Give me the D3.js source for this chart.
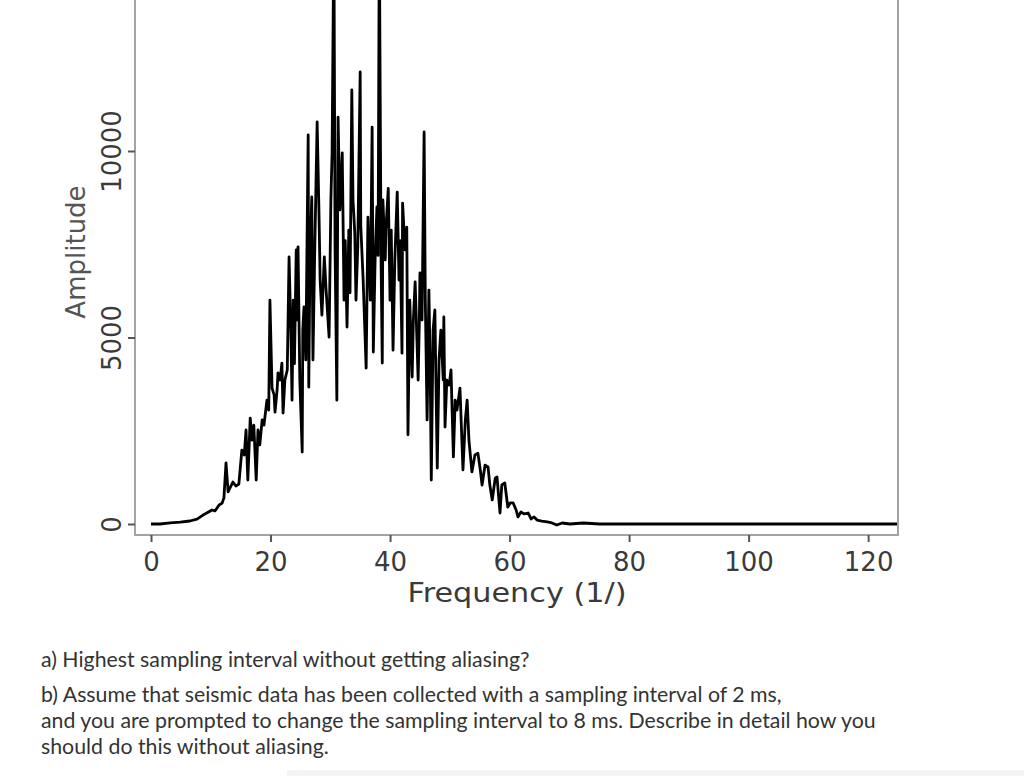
<!DOCTYPE html>
<html>
<head>
<meta charset="utf-8">
<script src="https://cdn.jsdelivr.net/npm/d3@7"></script>
<style>
  html, body { margin: 0; padding: 0; background: #fff; }
  svg { display: block; }
</style>
</head>
<body>
<svg id="chart" width="1024" height="776"></svg>
<script>
// ---- data ----
const frequency = [
  0, 1.5, 3.2, 4.9, 6.5, 7.7, 8.7, 9.4, 10.2, 10.7, 11.4, 11.9, 12.2, 12.55, 12.9, 13.2, 13.7, 14.2, 14.7,
  15.2, 15.6, 15.9, 16.2, 16.6, 16.9, 17.2, 17.6, 17.9, 18.2, 18.6, 18.9, 19.4, 19.7, 19.9, 20.25, 20.6,
  20.75, 21.1, 21.25, 21.6, 21.9, 22.1, 22.4, 22.8, 23.1, 23.4, 23.6, 23.8, 24.0, 24.3, 24.4, 24.6, 24.9,
  25.3, 25.4, 25.6, 25.9, 26.3, 26.4, 26.6, 26.9, 27.1, 27.4, 27.8, 28.1, 28.3, 28.6, 29.0, 29.3, 29.8,
  30.1, 30.3, 30.6, 30.8, 31.1, 31.3, 31.6, 32.0, 32.3, 32.5, 32.8, 33.1, 33.3, 33.6, 33.8, 34.1, 34.3,
  34.6, 35.0, 35.1, 35.5, 36.0, 36.3, 36.7, 37.0, 37.2, 37.5, 37.8, 38.0, 38.2, 38.5, 38.7, 38.8, 39.2,
  39.3, 39.7, 40.0, 40.2, 40.5, 40.8, 41.2, 41.5, 41.7, 42.0, 42.1, 42.5, 42.8, 43.0, 43.3, 43.7, 43.9,
  44.2, 44.5, 44.7, 44.9, 45.0, 45.35, 45.7, 45.9, 46.2, 46.5, 46.7, 46.9, 47.2, 47.5, 47.9, 48.2, 48.5,
  48.9, 49.0, 49.2, 49.5, 49.9, 50.2, 50.6, 50.9, 51.2, 51.7, 52.2, 52.6, 52.9, 53.2, 53.7, 54.2, 54.7,
  55.1, 55.4, 55.9, 56.4, 56.7, 57.1, 57.6, 57.9, 58.4, 58.7, 59.2, 59.7, 60.1, 60.6, 61.1, 61.4, 61.9,
  62.4, 63.1, 63.6, 64.1, 64.6, 65.4, 66.3, 67.1, 67.9, 68.8, 70.1, 72.3, 75.1, 78.5, 83.5, 91.9, 108.6, 124.9
];
const amplitude = [
  0, 0, 30, 50, 80, 130, 240, 300, 375, 350, 510, 560, 700, 1635, 860, 965, 1125, 1020, 1070,
  1980, 1850, 2520, 1180, 2840, 2250, 2650, 1180, 2520, 2120, 2790, 2650, 3320, 3055, 6000, 3645, 3460,
  3000, 3590, 4050, 3860, 4315, 2975, 3860, 4130, 7160, 5200, 3320, 6000, 4300, 7350, 5470, 7430, 3860,
  1930, 5200, 5820, 4400, 10430, 3670, 7080, 8770, 4400, 7350, 10780, 8420, 6540, 5600, 7160, 6270, 5010,
  8690, 9950, 16000, 7350, 3320, 10910, 8420, 9950, 6000, 7600, 5280, 7880, 6200, 11640, 8690, 7800, 6000,
  7430, 12120, 8000, 6540, 4180, 8230, 6000, 10640, 4610, 7080, 8500, 7200, 16000, 7000, 4315, 8690, 7080,
  7880, 9000, 6000, 7880, 4660, 7080, 8900, 6540, 7600, 4580, 8600, 7350, 7960, 2390, 6000, 3940, 5470,
  6490, 4930, 3860, 5400, 6730, 5470, 10510, 6000, 2790, 6270, 4400, 1180, 5200, 5740, 1500, 4400, 5200,
  3860, 5550, 2600, 3860, 3725, 4130, 1800, 3320, 3055, 3645, 1450, 2790, 3320, 2250, 1395, 1850, 1900,
  1450, 1045, 1580, 1530, 1045, 645, 1230, 1260, 295, 1045, 1100, 455, 565, 565, 375, 190, 320,
  270, 295, 135, 190, 107, 80, 54, 27, -27, 27, 0, 27, 0, 0, 0, 0, 0, 0
];
const xTicks = [0, 20, 40, 60, 80, 100, 120];
const yTicks = [0, 5000, 10000];
const xTitle = "Frequency (1/)";
const yTitle = "Amplitude";
const questions = [
  "a) Highest sampling interval without getting aliasing?",
  "b) Assume that seismic data has been collected with a sampling interval of 2 ms,",
  "and you are prompted to change the sampling interval to 8 ms. Describe in detail how you",
  "should do this without aliasing."
];

// ---- layout ----
const svg = d3.select("#chart");
const plot = { left: 135, right: 898, top: -20, bottom: 535 };

const x = d3.scaleLinear().domain([-2.68, 125]).range([plot.left, plot.right]);
const y = d3.scaleLinear().domain([-295, 14585]).range([plot.bottom, plot.top]);

const tickFont = "'DejaVu Sans', sans-serif";
const frameColor = "#a3a3a3";

svg.append("defs").append("clipPath").attr("id", "clip")
  .append("rect")
  .attr("x", plot.left).attr("y", plot.top)
  .attr("width", plot.right - plot.left).attr("height", plot.bottom - plot.top);

// data line
const pts = frequency.map((f, i) => [f, amplitude[i]]);
svg.append("path")
  .datum(pts)
  .attr("clip-path", "url(#clip)")
  .attr("fill", "none")
  .attr("stroke", "#000")
  .attr("stroke-width", 2.8)
  .attr("stroke-linejoin", "round")
  .attr("d", d3.line().x(d => x(d[0])).y(d => y(d[1])));

// frame
svg.append("rect")
  .attr("x", plot.left).attr("y", plot.top)
  .attr("width", plot.right - plot.left).attr("height", plot.bottom - plot.top)
  .attr("fill", "none").attr("stroke", frameColor).attr("stroke-width", 2);

// x axis
const xAxis = svg.append("g")
  .attr("transform", `translate(0,${plot.bottom})`)
  .call(d3.axisBottom(x).tickValues(xTicks).tickSize(7).tickPadding(8).tickFormat(d3.format("d")));
xAxis.select(".domain").remove();
xAxis.selectAll(".tick line").attr("stroke", "#555").attr("stroke-width", 2);
xAxis.selectAll(".tick text")
  .attr("fill", "#3a3a3a")
  .style("font-family", tickFont)
  .style("font-size", "26px")
  .attr("dy", null)
  .attr("y", 36);

// y axis
const yAxis = svg.append("g")
  .attr("transform", `translate(${plot.left},0)`)
  .call(d3.axisLeft(y).tickValues(yTicks).tickSize(7).tickFormat(d3.format("d")));
yAxis.select(".domain").remove();
yAxis.selectAll(".tick line").attr("stroke", "#555").attr("stroke-width", 2);
yAxis.selectAll(".tick text")
  .attr("fill", "#3a3a3a")
  .style("font-family", tickFont)
  .style("font-size", "26px")
  .attr("x", null).attr("dy", null)
  .attr("text-anchor", "middle")
  .attr("transform", "translate(-14,0) rotate(-90)");

// axis titles
svg.append("text")
  .attr("x", 517).attr("y", 602)
  .attr("text-anchor", "middle")
  .attr("textLength", 219).attr("lengthAdjust", "spacingAndGlyphs")
  .attr("fill", "#3a3a3a")
  .style("font-family", tickFont).style("font-size", "26px")
  .text(xTitle);

svg.append("text")
  .attr("transform", "translate(85,252) rotate(-90)")
  .attr("text-anchor", "middle")
  .attr("fill", "#555")
  .style("font-family", tickFont).style("font-size", "26px")
  .text(yTitle);

// question text
const qY = [667, 702, 728, 754];
svg.selectAll(".q").data(questions).enter().append("text")
  .attr("class", "q")
  .attr("x", 41).attr("y", (d, i) => qY[i])
  .attr("fill", "#333")
  .style("font-family", "Lato, 'Open Sans', sans-serif")
  .style("font-size", "21.3px")
  .text(d => d);

// faint bottom strip
svg.append("rect").attr("x", 287).attr("y", 770).attr("width", 737).attr("height", 6).attr("fill", "#f4f4f4");
</script>
</body>
</html>
